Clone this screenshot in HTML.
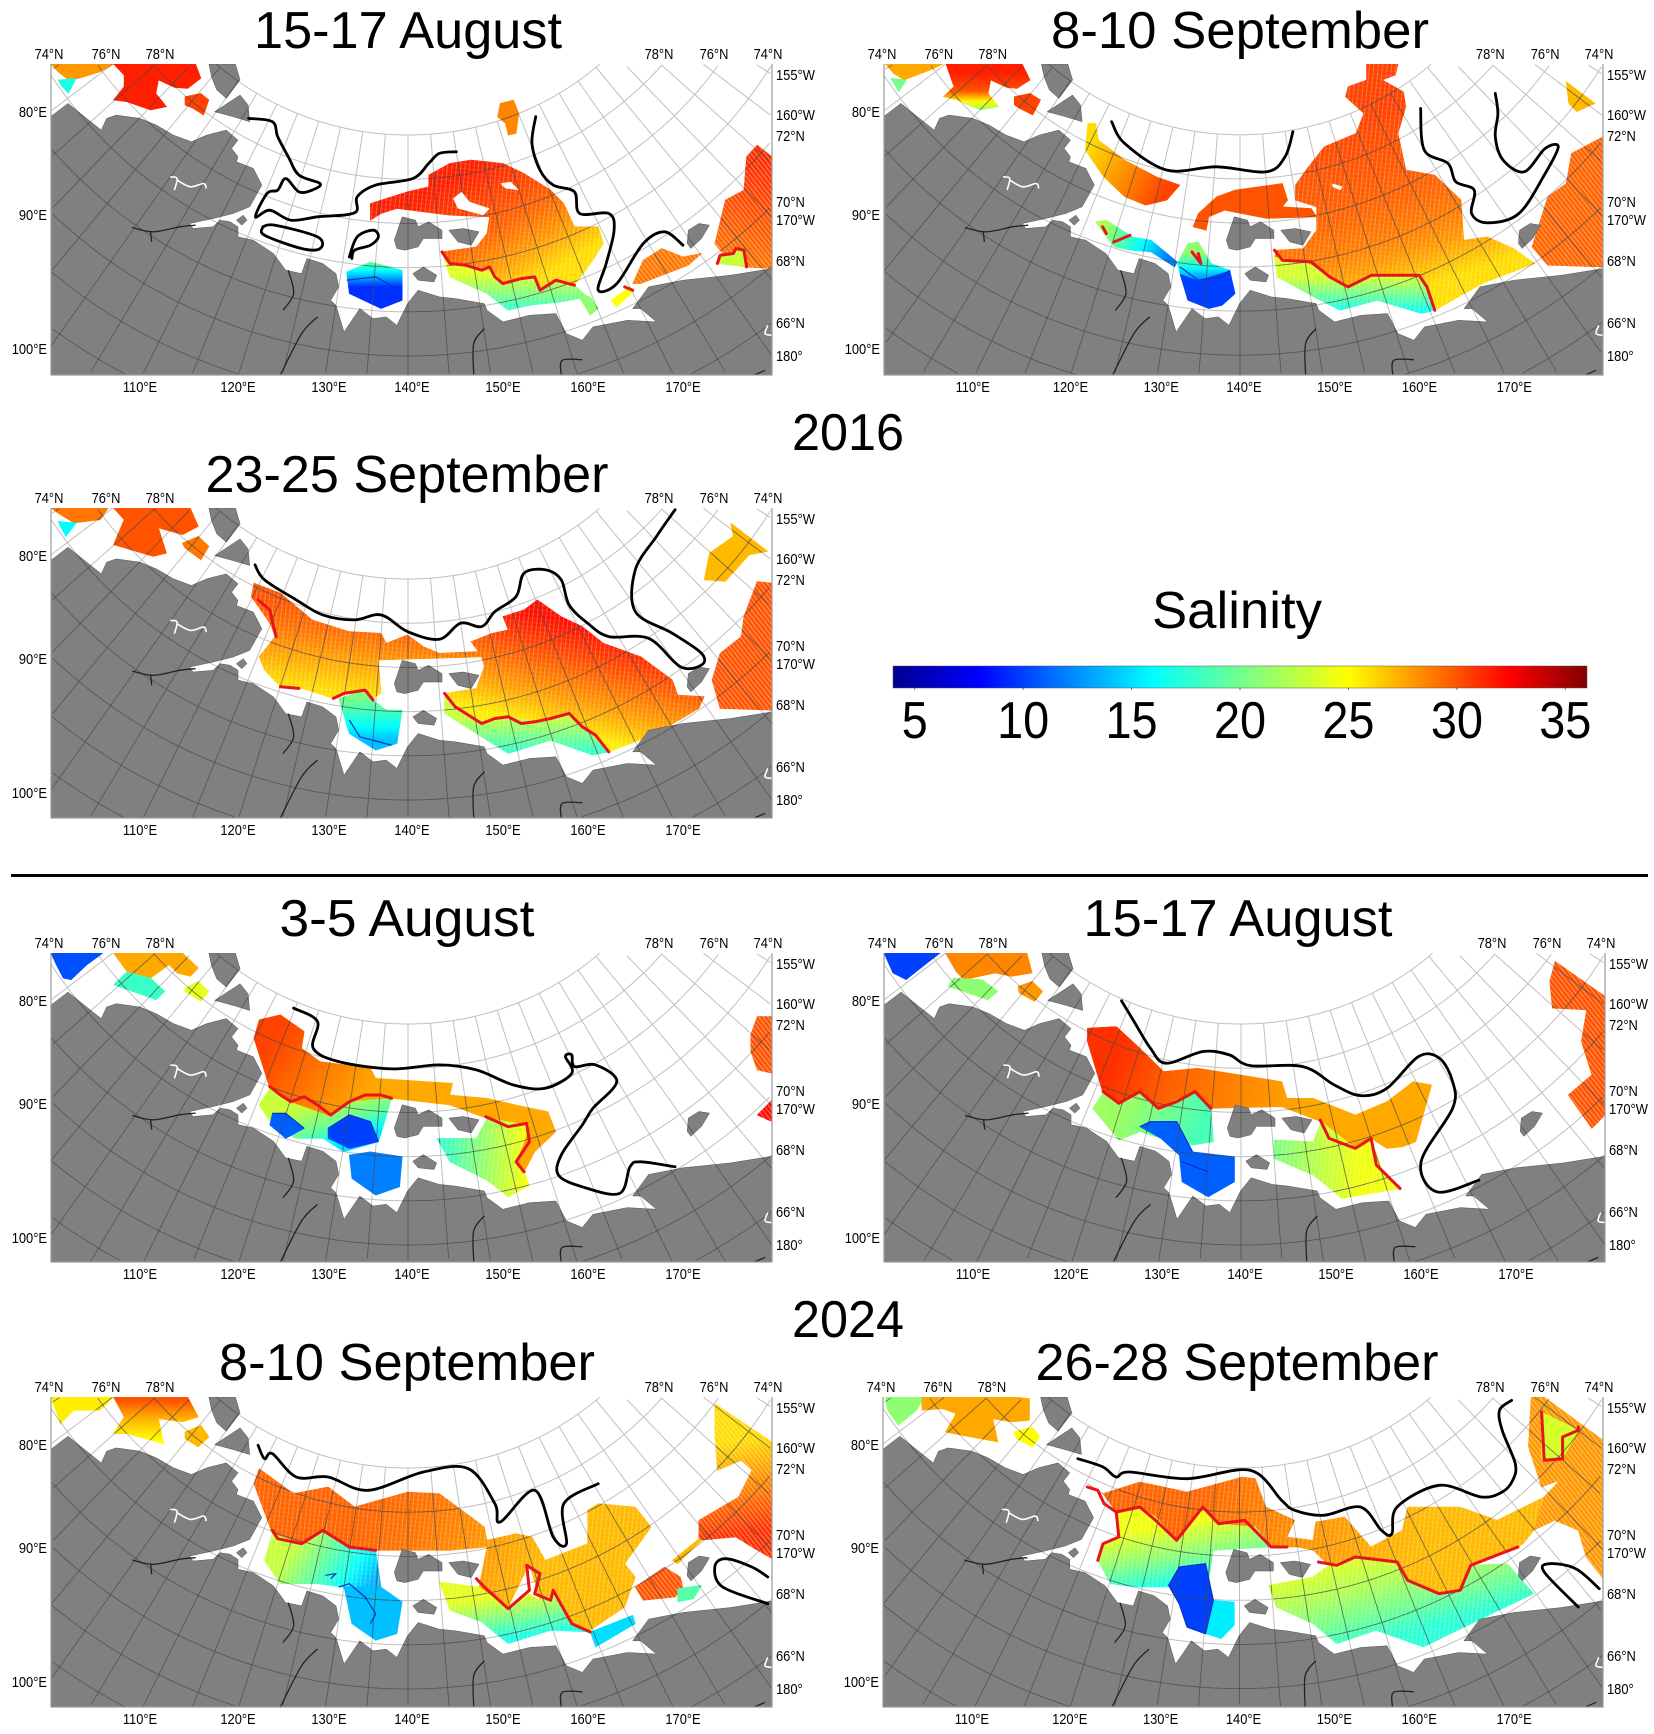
<!DOCTYPE html>
<html lang="en">
<head>
<meta charset="utf-8">
<title>Salinity maps 2016 and 2024</title>
<style>
html,body{margin:0;padding:0;background:#fff;overflow:hidden}
svg{display:block}
text{font-family:"Liberation Sans",sans-serif;fill:#000}
</style>
</head>
<body>
<svg id="chart" xmlns="http://www.w3.org/2000/svg" width="1654" height="1734" viewBox="0 0 1654 1734">
<rect width="1654" height="1734" fill="#fff"/>
<defs id="defs"></defs>
<g id="maps"></g>
<g id="titles">
<text x="408" y="48" font-size="52" text-anchor="middle" textLength="308" lengthAdjust="spacingAndGlyphs">15-17 August</text>
<text x="1240" y="48" font-size="52" text-anchor="middle" textLength="378" lengthAdjust="spacingAndGlyphs">8-10 September</text>
<text x="407" y="492" font-size="52" text-anchor="middle" textLength="403" lengthAdjust="spacingAndGlyphs">23-25 September</text>
<text x="407" y="936" font-size="52" text-anchor="middle" textLength="255" lengthAdjust="spacingAndGlyphs">3-5 August</text>
<text x="1238" y="936" font-size="52" text-anchor="middle" textLength="309" lengthAdjust="spacingAndGlyphs">15-17 August</text>
<text x="407" y="1380" font-size="52" text-anchor="middle" textLength="376" lengthAdjust="spacingAndGlyphs">8-10 September</text>
<text x="1237" y="1380" font-size="52" text-anchor="middle" textLength="403" lengthAdjust="spacingAndGlyphs">26-28 September</text>
<text x="848" y="450" font-size="52" text-anchor="middle" textLength="112" lengthAdjust="spacingAndGlyphs">2016</text>
<text x="848" y="1337" font-size="52" text-anchor="middle" textLength="112" lengthAdjust="spacingAndGlyphs">2024</text>
<text x="1237" y="628" font-size="52" text-anchor="middle" textLength="170" lengthAdjust="spacingAndGlyphs">Salinity</text>
</g>
<rect x="11" y="874" width="1637" height="3" fill="#000"/>
<g id="colorbar"></g>
</svg>
<script>
/* ---------- colour scale ---------- */
const colorStops = [[4,0,0,143],[8,0,0,255],[12,0,128,255],[16,0,255,255],[20.5,128,255,128],[25,255,255,0],[28.7,255,128,0],[32.4,255,0,0],[36,128,0,0]];
const salinityTicks = [5,10,15,20,25,30,35];
const salinityDomain = [4,36];

/* ---------- map geometry (shared base map, digitised coordinates) ---------- */
const landOutline = [96,350,129,310,176,370,192,390,202,355,220,345,265,355,296,375,328,405,362,425,391,405,428,390,450,420,438,445,450,470,447,485,479,505,495,555,472,620,441,640,403,655,359,670,365,685,403,680,416,660,435,665,450,680,450,710,479,720,517,760,540,810,570,820,580,775,610,790,635,820,640,860,625,900,635,915,650,995,665,960,680,925,705,955,730,950,750,975,770,910,790,870,830,890,860,895,915,910,920,930,950,965,1000,945,1050,940,1070,1000,1100,1020,1120,980,1185,960,1240,965,1210,925,1195,925,1225,860,1290,840,1380,825,1458,805,1458,1124,96,1124];
const islandOutlines = [
 [395,192,445,192,454,240,428,295,410,270,400,230],
 [406,335,454,285,469,315,472,365,441,350],
 [745,720,760,650,785,660,790,680,810,665,835,690,835,715,800,715,790,740,765,750,750,745],
 [848,690,875,685,905,695,890,735,865,725],
 [780,820,800,800,825,825,820,845,790,840],
 [1298,730,1300,690,1320,670,1340,675,1325,715,1305,745],
 [447,660,460,645,467,660,457,675]
];
const riverLines = [
 [250,682,290,695,340,680,370,675],
 [285,695,287,725],
 [545,810,555,880,535,930],
 [600,950,570,1000,530,1124],
 [915,985,895,1030,895,1124],
 [1060,1124,1062,1080,1100,1078],
 [1445,1110,1425,1124]
];
const lakeLines = [[322,530,335,535,330,570],[335,540,360,560,385,550,390,565],[1450,975,1445,1000,1458,1005]];
const latitudes = [80,78,76,74,72,70,68,66];
const meridians = [75,80,85,90,95,100,105,110,115,120,125,130,135,140,145,150,155,160,165,170,175,180,185,190,195,200,205,210];
const topLabels = ["74°N","76°N","78°N","78°N","76°N","74°N"];
const topLabelLon = [-2,55,109,608,663,717];
const leftLabels = ["80°E","90°E","100°E"];
const leftLabelRow = [53,156,290];
const rightLabels = ["155°W","160°W","72°N","70°N","170°W","68°N","66°N","180°"];
const rightLabelRow = [16,56,77,143,161,202,264,297];
const bottomLabels = ["110°E","120°E","130°E","140°E","150°E","160°E","170°E"];
const bottomLabelCol = [89,187,278,361,452,537,632];

/* ---------- panel 1 : 2016 15-17 August ---------- */
const p1Regions = [
 {pts:[97,192,215,192,190,215,150,235,130,240,110,215],sal:[28]},
 {pts:[110,240,145,235,130,280,118,260],sal:[17]},
 {pts:[215,192,370,192,380,235,355,265,330,262,300,240,295,280,315,320,285,330,240,305,215,300,235,260,235,225],sal:[31.5]},
 {pts:[350,290,380,280,395,300,385,345,365,325,350,315],sal:[30.5]},
 {pts:[945,310,970,300,980,340,975,400,960,405,955,370,940,350],sal:[28.5]},
 {pts:[700,610,770,575,810,560,810,525,850,490,890,480,950,490,990,520,1040,570,1065,610,1085,680,1130,680,1140,730,1120,780,1085,855,1050,840,1020,870,1010,830,950,850,925,800,910,810,850,790,835,755,900,740,920,700,925,650,850,645,750,625,720,640,700,660],sal:[31.5,30.5,29.5,28,26],from:[880,520],to:[1000,850],fine:true},
 {pts:[835,755,850,790,910,810,925,800,950,850,1010,830,1020,870,1050,840,1085,855,1110,890,1060,905,1000,915,960,930,920,880,850,830],sal:[24,18],from:[950,820],to:[950,925],fine:true},
 {pts:[1090,880,1115,890,1130,925,1115,945],sal:[21]},
 {pts:[655,815,700,785,760,810,760,900,720,925,660,880],sal:[19,9.5],from:[700,790],to:[700,860]},
 {pts:[1215,780,1250,745,1290,770,1325,760,1300,795,1210,850,1195,850],sal:[29],hatch:true},
 {pts:[1155,900,1190,860,1195,875,1165,920],sal:[25]},
 {pts:[1430,435,1458,470,1458,805,1405,800,1380,790,1350,730,1370,600,1405,570,1410,470],sal:[31,29],from:[1430,500],to:[1380,780],hatch:true},
 {pts:[1355,790,1360,765,1385,760,1390,745,1405,750,1410,800],sal:[23]}
];
const p1Holes = [[856,595,872,575,887,605,925,625,913,645,865,625],[945,550,965,545,980,570,955,565]];
const p1Fronts = [
 [470,355,515,365,525,410,545,470,565,525,605,550,590,570,565,575,540,535,525,570,505,580,483,650,510,630,550,660,600,650,670,638,675,590,710,555,780,535,810,490,830,460,862,455],
 [497,680,520,675,600,710,605,745,570,745,500,705,497,680],
 [660,770,675,710,705,690,715,710,700,735,670,750,665,775],
 [1012,350,1005,430,1020,510,1045,555,1085,575,1095,640,1150,640,1160,690,1145,790,1130,870,1165,850,1215,730,1255,695,1290,735]
];
const p1Isohalines = [[835,755,850,790,880,795,910,810,925,800,935,830,950,850,985,835,1010,830,1020,870,1050,840,1085,855],[1355,790,1360,765,1385,760,1390,745,1405,750,1410,800],[1180,860,1195,870]];
const p1Fresh = [[655,840,710,830,750,865]];

/* ---------- panel 2 : 2016 8-10 September ---------- */
const p2Regions = [
 {pts:[105,192,215,192,190,210,140,240,120,220],sal:[27.5]},
 {pts:[115,235,145,240,130,275],sal:[20]},
 {pts:[220,192,365,192,380,240,355,265,335,262,305,240,300,280,320,320,285,330,240,300,215,290,235,260],sal:[31.5,30,22],from:[280,220],to:[280,325]},
 {pts:[350,290,380,280,400,300,385,345,360,325,350,315],sal:[30.5]},
 {pts:[490,370,505,370,510,420,560,480,620,530,665,555,640,600,600,615,560,590,520,530,485,450],sal:[26,30.5],from:[490,440],to:[640,560]},
 {pts:[690,680,700,640,735,590,770,570,860,550,870,600,860,620,915,625,925,650,830,655,750,630,720,650,715,690],sal:[30]},
 {pts:[505,665,525,660,575,710,610,720,660,785,655,800,610,755,570,750,540,740,520,700],sal:[22,12],from:[520,680],to:[640,770]},
 {pts:[665,820,700,840,760,810,770,880,745,915,720,925,680,900],sal:[10]},
 {pts:[660,790,680,730,700,725,725,790,760,810,700,840,665,820],sal:[21,12],from:[700,760],to:[700,840]},
 {pts:[1020,192,1080,192,1075,225,1050,240,1090,275,1095,320,1080,400,1095,510,1150,525,1200,600,1205,720,1250,710,1300,745,1340,790,1240,850,1150,930,1135,860,1120,825,1030,825,985,860,950,830,910,790,845,770,850,750,900,745,925,690,925,620,885,600,885,555,905,510,940,440,1000,400,1015,340,980,290,985,260,1020,240],sal:[30.5,30,29.5,28.5,26],from:[1000,350],to:[1110,870],fine:true},
 {pts:[845,770,910,790,950,830,985,860,1030,825,1120,825,1135,860,1150,930,1125,940,1040,900,970,930,920,890,850,830],sal:[23.5,17],from:[1000,830],to:[1000,925],fine:true},
 {pts:[1400,245,1455,310,1420,335,1405,310],sal:[27]},
 {pts:[1470,410,1470,800,1365,795,1335,740,1365,590,1400,550,1410,460],sal:[29.5],hatch:true}
];
const p2Holes = [[955,550,975,560,970,570,955,560]];
const p2Fronts = [
 [535,365,560,430,640,510,735,500,830,515,865,470,880,395],
 [1123,325,1130,450,1175,490,1190,545,1225,570,1220,640,1250,668,1310,640,1360,520,1385,440,1360,445,1320,515,1280,480,1265,410,1270,340,1265,280]
];
const p2Isohalines = [[845,750,860,780,915,785,950,830,985,860,1030,825,1120,825,1135,860,1150,930],[518,680,525,700],[540,725,570,705],[688,755,705,790,700,760]];
const p2Fresh = [[665,800,700,840,745,830,760,810]];

/* ---------- panel 3 : 2016 23-25 September ---------- */
const p3Regions = [
 {pts:[97,205,205,205,190,240,140,250,110,220],sal:[29]},
 {pts:[110,245,145,250,125,290],sal:[16]},
 {pts:[215,205,360,205,375,260,345,285,300,265,315,340,290,350,215,315,235,240],sal:[30]},
 {pts:[345,310,375,290,395,320,380,360,350,325],sal:[29]},
 {pts:[1380,250,1450,335,1415,345,1370,425,1330,420,1340,340,1385,290],sal:[27]},
 {pts:[480,430,530,460,590,540,660,575,720,580,730,610,770,585,800,620,830,640,900,635,920,650,715,660,720,760,705,775,660,750,630,775,570,745,530,740,500,690,490,650,520,590,510,550,475,470],sal:[30,29,27.5,26],from:[600,500],to:[580,740],fine:true},
 {pts:[640,775,690,750,705,780,730,810,760,810,750,910,710,930,660,880],sal:[21,14],from:[680,760],to:[680,900]},
 {pts:[1015,480,1060,530,1100,560,1140,610,1210,650,1270,720,1280,765,1330,770,1320,805,1240,880,1150,935,1100,860,1075,820,1010,845,960,830,920,850,880,820,840,760,900,745,915,680,910,650,890,605,930,580,960,570,950,530,990,510],sal:[32,30.5,29,27.5,25.5],from:[1050,540],to:[1000,850],fine:true},
 {pts:[840,760,880,820,920,850,960,830,1010,845,1075,820,1100,860,1150,935,1120,945,1040,900,960,940,900,880,840,820],sal:[23,18],from:[990,830],to:[990,930],fine:true},
 {pts:[1430,425,1458,430,1458,810,1360,805,1345,720,1360,640,1400,590,1405,530],sal:[30],hatch:true}
];
const p3Holes = [];
const p3Fronts = [
 [482,375,500,420,560,480,610,525,670,540,720,525,770,575,830,598,870,550,910,560,935,515,975,470,990,400,1030,390,1060,420,1075,495,1110,550,1150,590,1225,595,1285,680,1325,675,1325,640,1270,580,1200,515,1200,390,1240,290,1275,210]
];
const p3Isohalines = [[488,480,510,510,515,545,522,590],[530,740,565,745],[630,775,650,760,690,750,705,780],[840,760,860,800,885,825,910,850,935,835,960,830,985,850,1010,845,1040,835,1075,820,1100,860,1125,885,1150,935]];
const p3Fresh = [[660,840,680,890,740,915]];

/* ---------- panel 4 : 2024 3-5 August ---------- */
const p4Regions = [
 {pts:[97,205,195,205,165,240,135,285,120,280,107,240],sal:[10.5]},
 {pts:[215,205,345,205,375,250,360,275,335,265,320,240,285,280,240,260],sal:[27.5]},
 {pts:[240,262,285,280,312,320,295,345,250,320,215,300],sal:[18]},
 {pts:[350,310,375,290,395,320,380,350,350,320],sal:[24]},
 {pts:[490,405,530,390,575,440,570,490,605,530,700,550,710,580,855,595,850,630,920,640,975,660,1035,680,1050,740,1010,800,990,860,975,830,990,770,1000,720,920,700,850,660,740,640,660,650,625,695,555,655,510,610,480,460],sal:[30.5,29.5,28.5,27.5],from:[530,430],to:[700,620]},
 {pts:[510,610,555,655,625,695,660,650,740,640,725,720,715,770,650,800,610,760,560,760,520,730,490,660],sal:[23,20,15],from:[620,640],to:[650,780]},
 {pts:[620,730,660,690,700,710,715,770,660,790,620,760],sal:[10]},
 {pts:[660,810,700,800,760,815,755,905,710,930,665,880],sal:[12]},
 {pts:[515,685,540,685,575,730,540,760,510,720],sal:[11]},
 {pts:[825,760,900,760,920,700,1000,720,990,770,975,830,990,860,1000,900,960,935,920,885,850,830],sal:[25,18],from:[1000,780],to:[840,780],fine:true},
 {pts:[1430,395,1458,395,1458,565,1430,555,1418,500,1418,450],sal:[30],hatch:true},
 {pts:[1458,645,1458,710,1430,690],sal:[32],hatch:true}
];
const p4Holes = [];
const p4Fronts = [
 [555,370,600,410,592,490,640,530,740,552,830,540,900,555,970,600,1030,610,1080,565,1068,515,1080,510,1085,545,1125,540,1165,590,1120,670,1100,720,1060,810,1055,870,1100,905,1170,925,1190,845,1210,830,1275,845]
];
const p4Isohalines = [[510,605,530,630,550,650,575,635,600,660,625,690,660,650,690,630,720,630,740,640],[918,695,960,725,995,715,1000,770,975,830,990,860]];
const p4Fresh = [[515,685,540,685,575,730],[620,730,660,690,700,710,715,770]];

/* ---------- panel 5 : 2024 15-17 August ---------- */
const p5Regions = [
 {pts:[103,205,210,205,185,235,145,285,120,265],sal:[10]},
 {pts:[220,205,375,205,385,265,345,275,315,265,255,285,240,260],sal:[28.5]},
 {pts:[235,280,290,285,320,320,300,345,225,305],sal:[21]},
 {pts:[358,305,385,290,405,320,390,350,360,325],sal:[28]},
 {pts:[490,430,545,425,590,490,635,560,700,550,780,570,860,590,870,640,920,640,1000,690,1060,650,1110,590,1145,600,1115,770,1090,785,1060,790,1030,760,1000,790,980,765,935,710,860,665,725,670,695,620,625,670,590,620,550,655,520,625,490,470],sal:[31,29.5,28.5,27.5],from:[560,460],to:[900,670]},
 {pts:[520,625,550,655,590,620,625,670,695,620,725,670,730,770,690,780,650,770,590,740,550,765,500,670],sal:[21.5,18.5],from:[560,660],to:[700,760]},
 {pts:[590,725,610,710,660,710,680,770,690,800,770,815,770,890,720,935,670,890,665,810,630,760],sal:[11]},
 {pts:[935,710,980,765,1000,790,1030,760,1050,850,1085,910,975,940,920,870,845,820,845,765,920,770],sal:[24.5,20.5],from:[1000,780],to:[850,800],fine:true},
 {pts:[1380,230,1475,335,1475,690,1450,730,1405,630,1450,570,1430,470,1440,375,1375,370,1370,290],sal:[30],hatch:true}
];
const p5Holes = [];
const p5Fronts = [
 [555,348,575,400,610,490,640,535,710,500,760,510,800,542,900,545,960,600,1010,632,1060,610,1120,515,1160,520,1185,590,1185,670,1125,830,1155,920,1235,885]
];
const p5Isohalines = [[520,620,550,655,590,620,625,670,660,650,695,620,725,670],[933,705,950,760,1000,790,1030,760,1040,840,1085,910]];
const p5Fresh = [[590,725,610,710,660,710,680,770,690,800],[670,830,720,860]];

/* ---------- panel 6 : 2024 8-10 September ---------- */
const p6Regions = [
 {pts:[97,200,215,200,190,240,140,240,115,280],sal:[25.5]},
 {pts:[215,200,355,200,375,260,345,275,300,265,310,340,240,310,215,310,235,260],sal:[30,27,25],from:[280,210],to:[280,330]},
 {pts:[350,305,380,285,395,320,375,350,350,325],sal:[27]},
 {pts:[490,415,555,490,620,470,670,530,770,485,830,490,890,560,915,590,920,630,975,610,1005,620,1030,690,1110,640,1110,540,1130,520,1200,530,1230,590,1180,700,1200,740,1180,830,1115,900,1080,880,1050,790,1020,810,1000,700,960,830,905,770,920,650,850,660,710,660,660,650,610,600,570,640,515,610,480,460],sal:[29.5,29,28,27],from:[700,520],to:[1000,780],fine:true},
 {pts:[515,610,570,640,610,600,660,650,710,660,720,770,690,790,645,770,600,760,530,760,500,690],sal:[23,13.5],from:[560,640],to:[690,790],fine:true},
 {pts:[650,770,720,770,760,815,750,910,710,930,665,880],sal:[14]},
 {pts:[830,755,905,770,960,835,1000,790,1020,810,1050,790,1080,880,1115,905,1040,900,960,940,910,875,850,840],sal:[24,17],from:[950,800],to:[960,920],fine:true},
 {pts:[1115,905,1195,855,1200,880,1125,950],sal:[15]},
 {pts:[1200,770,1255,710,1285,740,1290,775,1275,800,1215,810],sal:[30],hatch:true},
 {pts:[1280,775,1325,765,1310,805,1280,815],sal:[19]},
 {pts:[1350,220,1458,335,1458,685,1420,650,1390,620,1320,630,1320,570,1395,500,1420,420,1400,390,1355,420,1350,310],sal:[26,31],from:[1390,330],to:[1420,600],hatch:true},
 {pts:[1270,690,1320,625,1325,630,1280,700],sal:[27]}
];
const p6Holes = [];
const p6Fronts = [
 [488,345,500,385,515,370,560,440,620,440,695,480,800,425,885,415,935,520,945,575,1010,480,1045,620,1070,640,1065,520,1130,460],
 [1450,740,1420,710,1370,685,1350,710,1365,770,1450,820]
];
const p6Isohalines = [[515,600,525,625,570,640,610,600,660,650,710,660],[900,745,915,770,960,835,1000,780,995,705,1020,730,1010,790,1040,810,1045,780,1080,880,1115,905]];
const p6Fresh = [[640,770,660,760,690,800,710,850,700,880],[615,735,635,730,625,745]];

/* ---------- panel 7 : 2024 26-28 September ---------- */
const p7Regions = [
 {pts:[105,200,180,200,165,240,130,285,110,240],sal:[21]},
 {pts:[175,200,355,200,380,205,380,270,345,275,310,265,320,335,235,310,220,305,240,250,215,235,175,240],sal:[27.5]},
 {pts:[350,305,385,290,400,320,385,350,355,325],sal:[25]},
 {pts:[490,460,520,490,590,455,680,485,785,440,810,445,830,530,885,570,870,620,920,630,925,575,980,560,1030,650,1090,600,1100,530,1200,530,1270,570,1360,500,1390,450,1395,490,1340,600,1320,640,1300,660,1220,705,1200,780,1160,790,1100,750,1075,695,1000,680,950,705,920,660,890,650,840,650,810,590,740,580,710,530,660,630,620,560,590,530,545,545,520,490],sal:[29.5,27],from:[700,490],to:[1100,720],fine:true},
 {pts:[545,545,590,530,620,560,660,630,710,530,740,580,810,590,840,650,730,660,720,760,650,770,580,770,535,760,510,690,520,640,550,620],sal:[24.5,21,16.5],from:[620,590],to:[640,770],fine:true},
 {pts:[665,710,715,700,730,810,715,910,680,890,665,820,645,765],sal:[10]},
 {pts:[730,810,770,815,770,885,745,925,715,910],sal:[15.5]},
 {pts:[835,765,920,740,950,705,1000,680,1075,695,1100,750,1160,790,1200,780,1220,705,1290,700,1340,790,1260,850,1130,950,1040,900,965,940,920,880,850,830],sal:[23.5,22,20,17.5],from:[1000,700],to:[1040,930],fine:true},
 {pts:[1335,200,1360,200,1472,330,1472,745,1440,680,1425,600,1380,570,1340,600,1360,500,1390,450,1355,470,1330,350],sal:[28],hatch:true},
 {pts:[1355,245,1425,300,1395,385,1355,390],sal:[23.5]}
];
const p7Holes = [];
const p7Fronts = [
 [472,385,520,410,545,440,570,425,680,445,800,420,860,510,885,540,940,555,1010,530,1050,600,1070,610,1080,530,1160,465,1240,500,1280,485,1300,450,1305,400,1280,300,1275,240,1298,210],
 [1425,830,1360,725,1370,700,1420,715,1465,775]
];
const p7Isohalines = [[490,470,510,480,522,520,545,545,590,530,620,570,660,630,710,530,740,580,790,570,840,650,870,650],[545,545,550,620,520,640,510,690],[930,695,965,705,1000,680,1080,695,1100,750,1160,790,1200,780,1220,705,1310,650],[1355,245,1360,390,1395,385,1395,320,1425,300,1425,290]];
const p7Fresh = [[665,710,715,700,730,810,715,910,680,890,665,820,645,765,665,710]];

/* ---------- panel layout ---------- */
const landFrame = [97,192,1458,1124];
const panels = [
 {name:'2016-15-17-august',frame:[97,192,1458,1124],rect:[51,64,721,311],regions:p1Regions,holes:p1Holes,fronts:p1Fronts,iso:p1Isohalines,fresh:p1Fresh},
 {name:'2016-8-10-september',frame:[102,192,1470,1124],rect:[884,64,719,311],regions:p2Regions,holes:p2Holes,fronts:p2Fronts,iso:p2Isohalines,fresh:p2Fresh},
 {name:'2016-23-25-september',frame:[97,205,1458,1133],rect:[51,508,721,310],regions:p3Regions,holes:p3Holes,fronts:p3Fronts,iso:p3Isohalines,fresh:p3Fresh},
 {name:'2024-3-5-august',frame:[97,205,1458,1130],rect:[51,953,721,309],regions:p4Regions,holes:p4Holes,fronts:p4Fronts,iso:p4Isohalines,fresh:p4Fresh},
 {name:'2024-15-17-august',frame:[103,205,1475,1130],rect:[884,953,721,309],regions:p5Regions,holes:p5Holes,fronts:p5Fronts,iso:p5Isohalines,fresh:p5Fresh},
 {name:'2024-8-10-september',frame:[97,200,1458,1130],rect:[51,1397,721,310],regions:p6Regions,holes:p6Holes,fronts:p6Fronts,iso:p6Isohalines,fresh:p6Fresh},
 {name:'2024-26-28-september',frame:[101,200,1472,1130],rect:[883,1397,720,310],regions:p7Regions,holes:p7Holes,fronts:p7Fronts,iso:p7Isohalines,fresh:p7Fresh}
];

/* ---------- helpers ---------- */
const NS = 'http://www.w3.org/2000/svg';
const defs = document.getElementById('defs');
function mk(tag, attrs, parent){
  const el = document.createElementNS(NS, tag);
  for (const k in attrs) el.setAttribute(k, attrs[k]);
  if (parent) parent.appendChild(el);
  return el;
}
function salinityColor(s){
  const c = Math.max(colorStops[0][0], Math.min(colorStops[colorStops.length-1][0], s));
  for (let i = 1; i < colorStops.length; i++){
    if (c <= colorStops[i][0]){
      const a = colorStops[i-1], b = colorStops[i], t = (c-a[0])/(b[0]-a[0]);
      return 'rgb(' + [1,2,3].map(j => Math.round(a[j]+(b[j]-a[j])*t)).join(',') + ')';
    }
  }
  return '#800000';
}
function salAt(sal, t){
  const f = t*(sal.length-1), i = Math.min(Math.floor(f), sal.length-2);
  return sal[i] + (sal[i+1]-sal[i])*(f-i);
}
function axes(frame, rect){
  return {
    x: u => rect[0] + (u-frame[0])*rect[2]/(frame[2]-frame[0]),
    y: v => rect[1] + (v-frame[1])*rect[3]/(frame[3]-frame[1])
  };
}
function toPoints(flat, ax){
  const out = [];
  for (let i = 0; i < flat.length; i += 2) out.push([ax.x(flat[i]), ax.y(flat[i+1])]);
  return out;
}
function polyStr(flat, ax){
  return toPoints(flat, ax).map(p => p[0].toFixed(1)+','+p[1].toFixed(1)).join(' ');
}
function smoothPath(flat, ax){
  const p = toPoints(flat, ax);
  let d = 'M'+p[0][0].toFixed(1)+' '+p[0][1].toFixed(1);
  for (let i = 0; i < p.length-1; i++){
    const a = p[Math.max(i-1,0)], b = p[i], c = p[i+1], e = p[Math.min(i+2,p.length-1)];
    d += 'C'+(b[0]+(c[0]-a[0])/6).toFixed(1)+' '+(b[1]+(c[1]-a[1])/6).toFixed(1)+' '+
         (c[0]-(e[0]-b[0])/6).toFixed(1)+' '+(c[1]-(e[1]-b[1])/6).toFixed(1)+' '+c[0].toFixed(1)+' '+c[1].toFixed(1);
  }
  return d;
}
function condense(t, ratio){
  const w = t.getComputedTextLength();
  t.setAttribute('textLength', (w*ratio).toFixed(1));
  t.setAttribute('lengthAdjust', 'spacingAndGlyphs');
}
/* build a path only from the samples inside the map box */
function insidePath(samples, r){
  let d = '', pen = false;
  samples.forEach(p => {
    const ok = p[0] >= r[0] && p[0] <= r[0]+r[2] && p[1] >= r[1] && p[1] <= r[1]+r[3];
    if (ok){
      d += (pen ? 'L' : 'M') + p[0].toFixed(1) + ' ' + p[1].toFixed(1);
      pen = true;
    } else {
      pen = false;
    }
  });
  return d;
}

/* overlay patterns: coarse stripes for swath areas, fine lattice for gridded areas */
const hatchPattern = mk('pattern',{id:'hatch',width:3.6,height:3.6,patternUnits:'userSpaceOnUse',patternTransform:'rotate(-38)'},defs);
mk('rect',{x:0,y:0,width:1,height:3.6,fill:'#fff','fill-opacity':0.4},hatchPattern);
const finePattern = mk('pattern',{id:'fine',width:4.4,height:4.4,patternUnits:'userSpaceOnUse',patternTransform:'rotate(6)'},defs);
mk('rect',{x:0,y:0,width:0.9,height:4.4,fill:'#fff','fill-opacity':0.28},finePattern);
mk('rect',{x:0,y:0,width:4.4,height:0.6,fill:'#fff','fill-opacity':0.14},finePattern);

/* ---------- draw the maps ---------- */
const mapsRoot = document.getElementById('maps');
panels.forEach((panel, pi) => {
  const r = panel.rect;
  const data = axes(panel.frame, r);
  const base = axes(landFrame, r);
  const g = mk('g',{},mapsRoot);
  
  

  const clipMap = mk('clipPath',{id:'clip-map-'+pi},defs);
  mk('rect',{x:r[0],y:r[1],width:r[2],height:r[3]},clipMap);
  const clipSurface = mk('clipPath',{id:'clip-surface-'+pi},defs);
  mk('polygon',{points:polyStr(landOutline,base)},clipSurface);
  islandOutlines.forEach(o => mk('polygon',{points:polyStr(o,base)},clipSurface));
  panel.regions.forEach(reg => mk('polygon',{points:polyStr(reg.pts,data)},clipSurface));

  const inner = mk('g',{'clip-path':'url(#clip-map-'+pi+')'},g);
  const k = r[2]/721, cx = r[0]+357*k, cy = r[1]-224*k;
  const latR = lat => (295 + (80-lat)*22.1)*k;
  const lonA = lon => (lon-140)*0.88*Math.PI/180;

  function drawGrid(parent, color, width, opacity){
    latitudes.forEach(lat => {
      const samples = [];
      for (let a = -90; a <= 90; a += 0.5){
        const th = a*Math.PI/180;
        samples.push([cx+latR(lat)*Math.sin(th), cy+latR(lat)*Math.cos(th)]);
      }
      const c = mk('path',{d:insidePath(samples,r),fill:'none',stroke:color,'stroke-width':width,'stroke-opacity':opacity},parent);
      
      
    });
    meridians.forEach(lon => {
      const samples = [];
      for (let rad = latR(80); rad <= 760*k; rad += 4){
        samples.push([cx+rad*Math.sin(lonA(lon)), cy+rad*Math.cos(lonA(lon))]);
      }
      const l = mk('path',{d:insidePath(samples,r),fill:'none',stroke:color,'stroke-width':width,'stroke-opacity':opacity},parent);
      
      
    });
  }
  const gridLight = mk('g',{},inner);
  
  
  drawGrid(gridLight,'#c0c0c0',1,1);

  panel.regions.forEach((reg, ri) => {
    let fill;
    if (reg.sal.length === 1){
      fill = salinityColor(reg.sal[0]);
    } else {
      const id = 'grad-'+pi+'-'+ri;
      const lg = mk('linearGradient',{id:id,gradientUnits:'userSpaceOnUse',x1:data.x(reg.from[0]),y1:data.y(reg.from[1]),x2:data.x(reg.to[0]),y2:data.y(reg.to[1])},defs);
      for (let i = 0; i <= 10; i++){
        const t = i/10;
        mk('stop',{offset:t,'stop-color':salinityColor(salAt(reg.sal,t))},lg);
      }
      fill = 'url(#'+id+')';
    }
    const poly = mk('polygon',{points:polyStr(reg.pts,data),fill:fill,stroke:fill,'stroke-width':0.6},inner);
    
    
    if (reg.hatch || reg.fine){
      const h = mk('polygon',{points:polyStr(reg.pts,data),fill:reg.hatch ? 'url(#hatch)' : 'url(#fine)'},inner);
      
      
    }
  });

  const land = mk('polygon',{points:polyStr(landOutline,base),fill:'#808080',stroke:'#555','stroke-width':0.5},inner);
  
  
  islandOutlines.forEach(o => {
    const isl = mk('polygon',{points:polyStr(o,base),fill:'#808080',stroke:'#555','stroke-width':0.5},inner);
    
    
  });
  const gridDark = mk('g',{'clip-path':'url(#clip-surface-'+pi+')'},inner);
  
  
  drawGrid(gridDark,'#4a4a4a',0.9,0.75);
  panel.holes.forEach(o => {
    const h = mk('polygon',{points:polyStr(o,data),fill:'#fff'},inner);
    
    
  });
  riverLines.forEach(o => {
    const rv = mk('path',{d:smoothPath(o,base),fill:'none',stroke:'#222','stroke-width':1.3},inner);
    
    
  });
  lakeLines.forEach(o => {
    const lk = mk('path',{d:smoothPath(o,base),fill:'none',stroke:'#fff','stroke-width':1.6},inner);
    
    
  });
  panel.fresh.forEach(o => {
    const fl = mk('polyline',{points:polyStr(o,data),fill:'none',stroke:'#0a2fc8','stroke-width':1.2,'stroke-linejoin':'round'},inner);
    
    
  });
  panel.iso.forEach(o => {
    const iso = mk('polyline',{points:polyStr(o,data),fill:'none',stroke:'#e8141c','stroke-width':3,'stroke-linejoin':'round','stroke-linecap':'round'},inner);
    
    
  });
  panel.fronts.forEach(o => {
    const fr = mk('path',{d:smoothPath(o,data),fill:'none',stroke:'#000','stroke-width':2.8,'stroke-linecap':'round','stroke-linejoin':'round'},inner);
    
    
  });

  mk('path',{d:'M'+r[0]+' '+r[1]+'V'+(r[1]+r[3])+'H'+(r[0]+r[2])+'V'+r[1],fill:'none',stroke:'#9a9a9a','stroke-width':1.2},g);

  function label(str, x, y, anchor, nm){
    const t = mk('text',{x:x,y:y,'font-size':15,'text-anchor':anchor},g);
    t.textContent = str;
    
    
    condense(t, 0.86);
  }
  topLabels.forEach((s,i) => label(s, r[0]+topLabelLon[i]*k, r[1]-5, 'middle', 'top-lat-label'));
  leftLabels.forEach((s,i) => label(s, r[0]-4, r[1]+leftLabelRow[i], 'end', 'left-lon-label'));
  rightLabels.forEach((s,i) => label(s, r[0]+r[2]+4, r[1]+rightLabelRow[i], 'start', 'right-axis-label'));
  bottomLabels.forEach((s,i) => label(s, r[0]+bottomLabelCol[i]*k, r[1]+r[3]+17, 'middle', 'bottom-lon-label'));
});

/* ---------- colour bar ---------- */
const cbarRoot = document.getElementById('colorbar');
const cbarBox = [893,666,694,22];
const cbarX = s => cbarBox[0] + (s-salinityDomain[0])/(salinityDomain[1]-salinityDomain[0])*cbarBox[2];
const cg = mk('linearGradient',{id:'cbar-grad',x1:0,y1:0,x2:1,y2:0},defs);
colorStops.forEach(st => {
  mk('stop',{offset:(st[0]-salinityDomain[0])/(salinityDomain[1]-salinityDomain[0]),'stop-color':salinityColor(st[0])},cg);
});
const cr = mk('rect',{x:cbarBox[0],y:cbarBox[1],width:cbarBox[2],height:cbarBox[3],fill:'url(#cbar-grad)',stroke:'#555','stroke-width':0.5},cbarRoot);


salinityTicks.forEach(v => {
  const tk = mk('line',{x1:cbarX(v),x2:cbarX(v),y1:cbarBox[1]+cbarBox[3],y2:cbarBox[1]+cbarBox[3]+2,stroke:'#666','stroke-width':1},cbarRoot);
  
  
  const tl = mk('text',{x:cbarX(v),y:738,'font-size':52,'text-anchor':'middle'},cbarRoot);
  tl.textContent = String(v);
  
  
  condense(tl, 0.9);
});
</script>
</body>
</html>
